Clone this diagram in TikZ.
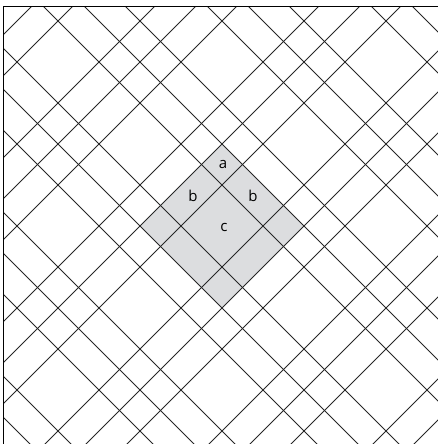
\documentclass[tikz,border=0pt]{standalone}
\usepackage{fontspec}
\setmainfont{Open Sans}
\definecolor{tilegray}{RGB}{220,221,223}
\begin{document}
\begin{tikzpicture}[x=1pt,y=-1pt,
    gridline/.style={line width=0.75pt, black!85},
    frameline/.style={line width=1pt, black},
    piece/.style={font=\fontsize{15}{18}\selectfont, inner sep=0pt}
]
\useasboundingbox (0,0) rectangle (438,444);
\begin{scope}
\clip (3,7) rectangle (438,444);
% shaded square a+b+b+c+...
\fill[tilegray] (222,144) -- (304,226) -- (222,308) -- (140,226) -- cycle;
% rising lines, three at a time
\foreach \k in {0,...,5}
  \foreach \m in {0,1,2}
    \draw[gridline] ({-3+164*\k+41*\m},0) -- ++(-450,450);
% falling lines
\foreach \k in {-3,...,2}
  \foreach \m in {0,1,2}
    \draw[gridline] ({37+164*\k+41*\m},0) -- ++(450,450);
\end{scope}
\draw[frameline] (3,444) -- (3,7) -- (438,7);
\node[piece] (pa) at (223,164) {a};
\node[piece] (pb1) at (193,196) {b};
\node[piece] (pb2) at (253,196) {b};
\node[piece] (pc) at (224,227) {c};
\end{tikzpicture}
\end{document}
